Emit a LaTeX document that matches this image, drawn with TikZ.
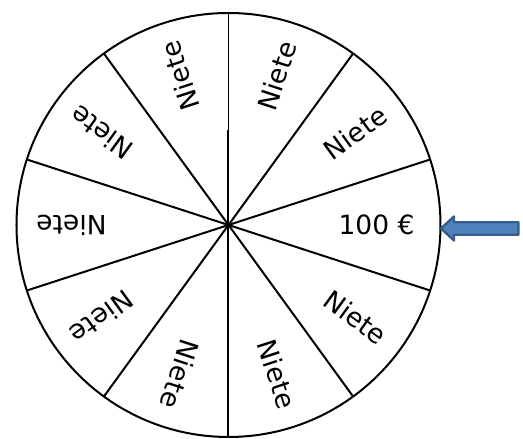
\documentclass[tikz,border=0pt]{standalone}
\usepackage{fontspec}
\setmainfont{DejaVu Sans}
\usetikzlibrary{positioning}
\definecolor{arrowfill}{HTML}{4F81BD}
\definecolor{arrowline}{HTML}{385D8A}

\begin{document}
\begin{tikzpicture}[x=1pt, y=1pt, line width=2pt,
    field/.style={font=\fontsize{26.5}{31}\selectfont, inner sep=0pt}]
      \useasboundingbox (-228.5,-214) rectangle (294.5,225);

      % Wheel
      \coordinate (c) at (0,0);
      \draw (c) circle (212);

      % Spokes
      \foreach \a [count=\i] in {18,54,126,162,198,234,270,306,342}
        \coordinate (s\i) at (\a:212);
      \foreach \i in {1,...,9}
        \draw (c) -- (s\i);
      \coordinate (top) at (90:212);
      \coordinate (mid) at (90:95);
      \draw (c) -- (mid);
      \draw[line width=1.2pt] (mid) -- (top);

      % Labels
      \node[field] (prize) at (0:148) {100 €};
      \foreach \a [count=\i] in {36,72,...,324}
        \node[field, rotate=\a] (n\i) at (\a:157) {Niete};

      % Pointer
      \coordinate (tip) at (212.5,-3.5);
      \draw[arrowline, fill=arrowfill, line width=2.4pt, line join=round]
        (tip) -- (225.5,8.5) -- (225.5,2.75) -- (290,2.75) -- (290,-9.75)
        -- (225.5,-9.75) -- (225.5,-15.5) -- cycle;
    \end{tikzpicture}
\end{document}
